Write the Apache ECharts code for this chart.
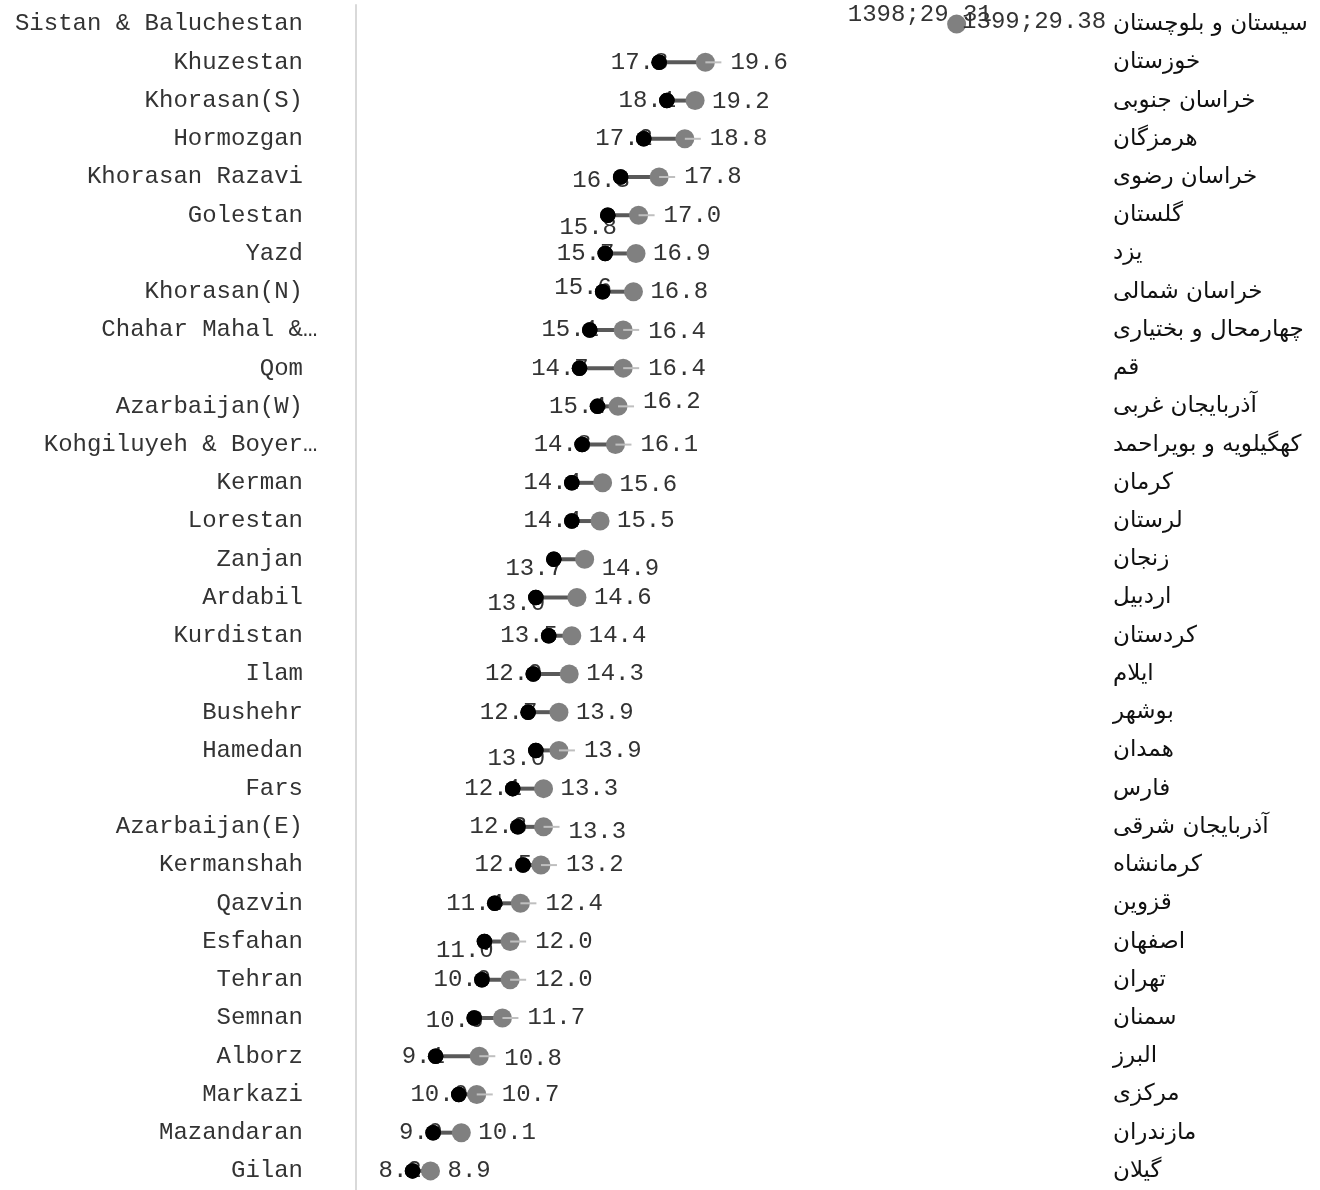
<!DOCTYPE html>
<html>
<head>
<meta charset="utf-8">
<script src="https://cdn.jsdelivr.net/npm/echarts@6/dist/echarts.min.js"></script>
<style>
html,body{margin:0;padding:0;background:#fff;}
#chart{width:1320px;height:1190px;}
</style>
</head>
<body>
<div id="chart"></div>
<script>
// ---- data ----
const provincesEn = ['Sistan & Baluchestan','Khuzestan','Khorasan(S)','Hormozgan','Khorasan Razavi','Golestan','Yazd','Khorasan(N)','Chahar Mahal &\u2026','Qom','Azarbaijan(W)','Kohgiluyeh & Boyer\u2026','Kerman','Lorestan','Zanjan','Ardabil','Kurdistan','Ilam','Bushehr','Hamedan','Fars','Azarbaijan(E)','Kermanshah','Qazvin','Esfahan','Tehran','Semnan','Alborz','Markazi','Mazandaran','Gilan'];
const provincesFa = ['سیستان و بلوچستان','خوزستان','خراسان جنوبی','هرمزگان','خراسان رضوی','گلستان','یزد','خراسان شمالی','چهارمحال و بختیاری','قم','آذربایجان غربی','کهگیلویه و بویراحمد','کرمان','لرستان','زنجان','اردبیل','کردستان','ایلام','بوشهر','همدان','فارس','آذربایجان شرقی','کرمانشاه','قزوین','اصفهان','تهران','سمنان','البرز','مرکزی','مازندران','گیلان'];
const values1398 = [29.31,17.8,18.1,17.2,16.3,15.8,15.7,15.6,15.1,14.7,15.4,14.8,14.4,14.4,13.7,13.0,13.5,12.9,12.7,13.0,12.1,12.3,12.5,11.4,11.0,10.9,10.6,9.1,10.0,9.0,8.2];
const values1399 = [29.38,19.6,19.2,18.8,17.8,17.0,16.9,16.8,16.4,16.4,16.2,16.1,15.6,15.5,14.9,14.6,14.4,14.3,13.9,13.9,13.3,13.3,13.2,12.4,12.0,12.0,11.7,10.8,10.7,10.1,8.9];
const seriesNames = ['1398','1399'];

// ---- label styling (not data) ----
// rows whose 1399 label is pulled out with a leader line
const leaderNames = ['Khuzestan','Hormozgan','Khorasan Razavi','Golestan','Chahar Mahal &\u2026','Qom','Azarbaijan(W)','Kohgiluyeh & Boyer\u2026','Hamedan','Azarbaijan(E)','Kermanshah','Qazvin','Esfahan','Tehran','Semnan','Alborz','Markazi'];
const leaderIdx = new Set(leaderNames.map(n => provincesEn.indexOf(n)));
// small vertical nudges of some labels (as in the original layout)
const nudge98 = { 'Khorasan Razavi': 4, 'Golestan': 12, 'Zanjan': 9, 'Ardabil': 6, 'Hamedan': 8, 'Esfahan': 9, 'Semnan': 3, 'Khorasan(N)': -4 };
const nudge99 = { 'Zanjan': 9, 'Azarbaijan(E)': 5, 'Azarbaijan(W)': -5, 'Alborz': 2, 'Khorasan(S)': 1, 'Chahar Mahal &\u2026': 2, 'Kerman': 2 };

const MONO = "'Courier New','Liberation Mono',monospace";
const TXT = '#333';

const axisEn = provincesEn.map(n => n.endsWith('\u2026') ? { value: n, textStyle: { padding: [0, -14.4, 0, 0] } } : n);

const pairData = provincesEn.map((_, i) => [values1398[i], values1399[i], i]);

const data98 = provincesEn.map((n, i) => {
  const item = { value: [values1398[i], i] };
  if (i === 0) { item.label = { position: 'inside', distance: 0, offset: [-35, -9] }; item.symbolSize = 10; }
  else if (nudge98[n]) item.label = { offset: [0, nudge98[n]] };
  return item;
});
const data98dots = provincesEn.map((_, i) => i === 0 ? { value: [values1398[i], i], symbolSize: 10 } : [values1398[i], i]);
const data99 = provincesEn.map((n, i) => {
  const item = { value: [values1399[i], i] };
  if (i === 0) { item.label = { distance: -4, offset: [0, -2] }; return item; }
  const lab = {};
  if (leaderIdx.has(i)) lab.distance = 15.5;
  if (nudge99[n]) lab.offset = [0, nudge99[n]];
  if (Object.keys(lab).length) item.label = lab;
  return item;
});
const leaderData = provincesEn.map((_, i) => [values1399[i], i]).filter((d) => leaderIdx.has(d[1]));

const fmt = (name) => (p) => {
  const v = p.value[0];
  return p.dataIndex === 0 ? name + ';' + v.toFixed(2) : v.toFixed(1);
};

const chart = echarts.init(document.getElementById('chart'), null, { renderer: 'canvas' });
chart.setOption({
  animation: false,
  backgroundColor: '#fff',
  grid: { left: 356, top: 5, width: 745, height: 1193.5, containLabel: false },
  xAxis: { type: 'value', min: 6, max: 35, show: false },
  yAxis: [
    {
      type: 'category', data: axisEn, inverse: true, boundaryGap: true,
      axisLine: { show: true, lineStyle: { color: '#d9d9d9', width: 2 } },
      axisTick: { show: false },
      splitLine: { show: false },
      axisLabel: { margin: 53, fontFamily: MONO, fontSize: 24, color: TXT }
    },
    {
      type: 'category', data: provincesFa, inverse: true, boundaryGap: true, position: 'right',
      axisLine: { show: false }, axisTick: { show: false }, splitLine: { show: false },
      axisLabel: { margin: 12, fontFamily: "'DejaVu Sans','Noto Sans',sans-serif", fontSize: 23, color: '#111' }
    }
  ],
  series: [
    {
      name: 'connector', type: 'custom', z: 1, silent: true,
      encode: { x: [0, 1], y: 2 },
      data: pairData,
      renderItem: (params, api) => {
        const a = api.coord([api.value(0), api.value(2)]);
        const b = api.coord([api.value(1), api.value(2)]);
        return { type: 'line', shape: { x1: a[0], y1: a[1], x2: b[0], y2: b[1] }, style: { stroke: '#595959', lineWidth: 4 } };
      }
    },
    {
      name: seriesNames[0], type: 'scatter', z: 2, symbol: 'circle', symbolSize: 15.5,
      itemStyle: { color: '#000', opacity: 1 },
      label: { show: true, position: 'left', distance: -17, fontFamily: MONO, fontSize: 24, color: TXT, formatter: fmt(seriesNames[0]) },
      data: data98
    },
    {
      name: seriesNames[0] + ' dots', type: 'scatter', z: 3, symbol: 'circle', symbolSize: 15.5,
      itemStyle: { color: '#000', opacity: 1 }, silent: true,
      data: data98dots
    },
    {
      name: seriesNames[1], type: 'scatter', z: 4, symbol: 'circle', symbolSize: 19,
      itemStyle: { color: '#808080', opacity: 1 },
      label: { show: true, position: 'right', distance: 7.5, fontFamily: MONO, fontSize: 24, color: TXT, formatter: fmt(seriesNames[1]) },
      data: data99
    },
    {
      name: 'leader', type: 'custom', z: 5, silent: true,
      encode: { x: 0, y: 1 },
      data: leaderData,
      renderItem: (params, api) => {
        const a = api.coord([api.value(0), api.value(1)]);
        return { type: 'line', shape: { x1: a[0], y1: a[1], x2: a[0] + 16, y2: a[1] }, style: { stroke: '#bfbfbf', lineWidth: 2 } };
      }
    }
  ]
});
</script>
</body>
</html>
